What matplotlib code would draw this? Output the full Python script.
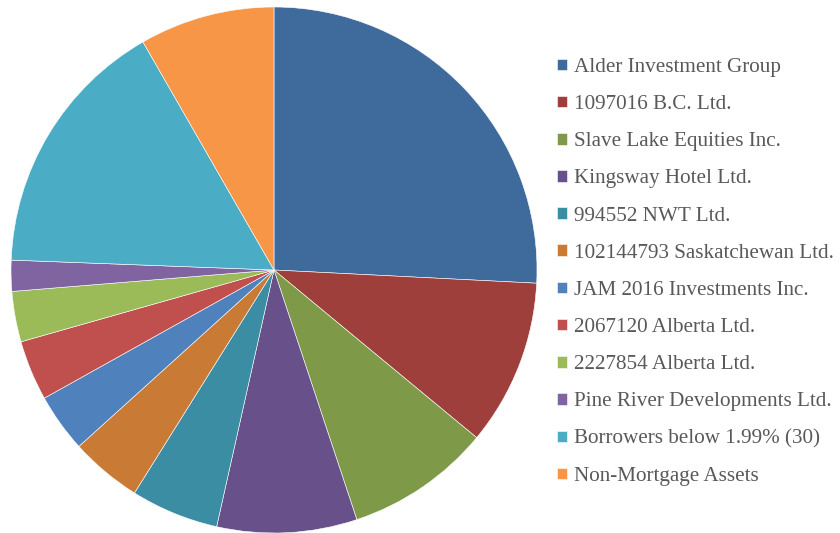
import matplotlib.pyplot as plt

labels = ['Alder Investment Group', '1097016 B.C. Ltd.', 'Slave Lake Equities Inc.',
          'Kingsway Hotel Ltd.', '994552 NWT Ltd.', '102144793 Saskatchewan Ltd.',
          'JAM 2016 Investments Inc.', '2067120 Alberta Ltd.', '2227854 Alberta Ltd.',
          'Pine River Developments Ltd.', 'Borrowers below 1.99% (30)', 'Non-Mortgage Assets']
shares = [25.8, 10.2, 8.9, 8.6, 5.4, 4.4, 3.6, 3.7, 3.1, 1.9, 16.1, 8.3]
colors = ['#3F6A9C', '#9E3F3C', '#7E9A48', '#68508A', '#3A8DA2', '#C97A35',
          '#4F81BD', '#C0504D', '#9BBB59', '#8064A2', '#4BACC6', '#F79646']

plt.rcParams['font.family'] = 'serif'
plt.rcParams['font.serif'] = ['Liberation Serif', 'DejaVu Serif']

fig = plt.figure(figsize=(8.4, 5.33), dpi=100)
# pie centre (274, 270) px, radius 263 px
ax = fig.add_axes([11 / 840, (533 - 270 - 263) / 533, 526 / 840, 526 / 533])
wedges, _ = ax.pie(shares, colors=colors, startangle=90, counterclock=False,
                   radius=1, wedgeprops=dict(edgecolor='white', linewidth=0.4))
ax.set_xlim(-1, 1)
ax.set_ylim(-1, 1)
ax.set_aspect('equal')
ax.axis('off')

leg = fig.legend(wedges, labels, loc='center left', bbox_to_anchor=(557 / 840, 1 - 272 / 533),
                 frameon=False, fontsize=15.2, handlelength=0.47, handleheight=0.47,
                 handletextpad=0.34, labelspacing=0.86, borderpad=0, borderaxespad=0)
for t in leg.get_texts():
    t.set_color('#595959')

fig.savefig('out.png', dpi=100)
